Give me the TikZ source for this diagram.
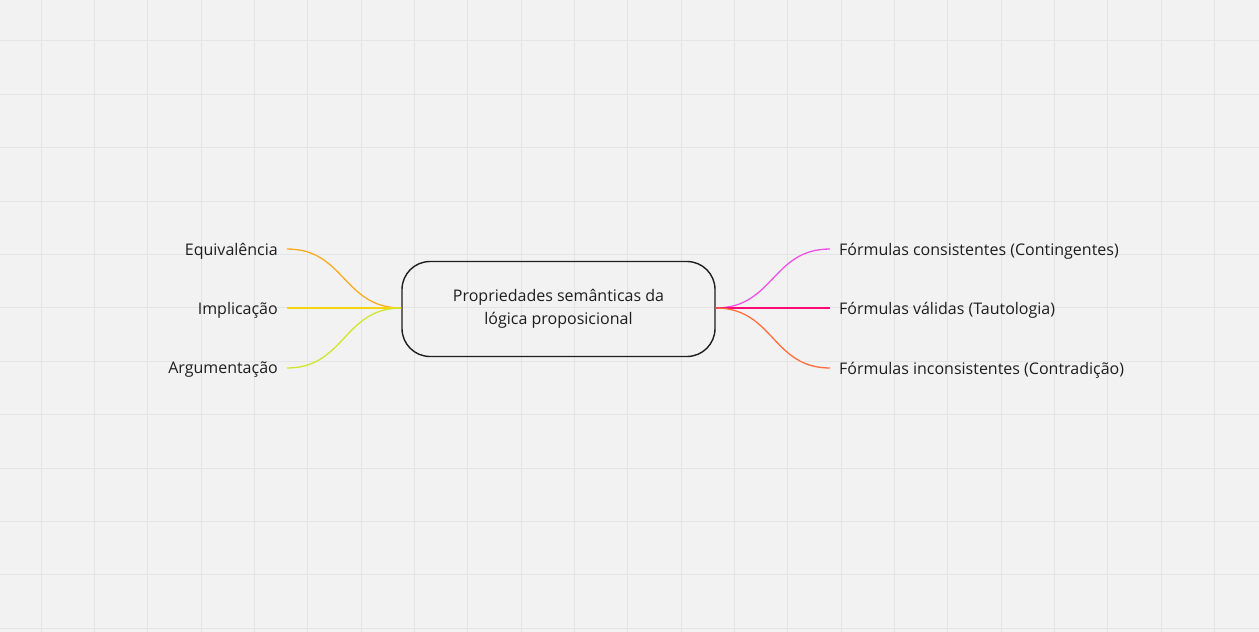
\documentclass[tikz,border=0pt]{standalone}
\usepackage{fontspec}
\setmainfont{Open Sans}
\definecolor{bg}{HTML}{F2F2F2}
\definecolor{gridc}{HTML}{E4E4E4}
\definecolor{txt}{HTML}{1E1E1E}
\definecolor{cEq}{HTML}{FAAA1E}
\definecolor{cIm}{HTML}{F8D410}
\definecolor{cAr}{HTML}{CFE62E}
\definecolor{cCo}{HTML}{F050E6}
\definecolor{cVa}{HTML}{FA0A78}
\definecolor{cIn}{HTML}{FF6E3C}
\tikzset{
  lbl/.style={text=txt, font=\fontsize{16}{19}\selectfont, inner xsep=9pt, inner ysep=2pt},
  hub/.style={draw=txt, line width=1.4pt, rounded corners=28pt, minimum width=313pt, minimum height=95pt,
     text=txt, font=\fontsize{16}{23}\selectfont, align=center},
  branch/.style={line width=1.3pt}
}
\begin{document}
\begin{tikzpicture}[x=1pt,y=-1pt]
\fill[bg] (0,0) rectangle (1259,632);
\useasboundingbox (0,0) rectangle (1259,632);
\foreach \i in {0,...,23} {
  \draw[gridc, line width=1pt] ({41.3+53.33*\i},0) -- ({41.3+53.33*\i},632);
}
\foreach \j in {0,...,11} {
  \draw[gridc, line width=1pt] (0,{40.8+53.4*\j}) -- (1259,{40.8+53.4*\j});
}
\node[hub] (hub) at (558.5,309) {Propriedades semânticas da\\lógica proposicional};
\node[lbl, anchor=east] (eq) at (287,251) {Equivalência};
\node[lbl, anchor=east] (im) at (287,310) {Implicação};
\node[lbl, anchor=east] (ar) at (287,370) {Argumentação};
\node[lbl, anchor=west] (co) at (830,251) {Fórmulas consistentes (Contingentes)};
\node[lbl, anchor=west] (va) at (830,310) {Fórmulas válidas (Tautologia)};
\node[lbl, anchor=west] (in) at (830,370) {Fórmulas inconsistentes (Contradição)};
\draw[branch, cEq] ([yshift=2pt]eq.east) .. controls +(58,0) and +(-58,0) .. ([yshift=1pt]hub.west);
\draw[branch, cIm] ([yshift=2pt]im.east) -- ([yshift=1pt]hub.west);
\draw[branch, cAr] ([yshift=2pt]ar.east) .. controls +(58,0) and +(-58,0) .. ([yshift=1pt]hub.west);
\draw[branch, cCo] ([yshift=1pt]hub.east) .. controls +(58,0) and +(-58,0) .. ([yshift=2pt]co.west);
\draw[branch, cVa] ([yshift=1pt]hub.east) -- ([yshift=2pt]va.west);
\draw[branch, cIn] ([yshift=1pt]hub.east) .. controls +(58,0) and +(-58,0) .. ([yshift=2pt]in.west);
\end{tikzpicture}
\end{document}
